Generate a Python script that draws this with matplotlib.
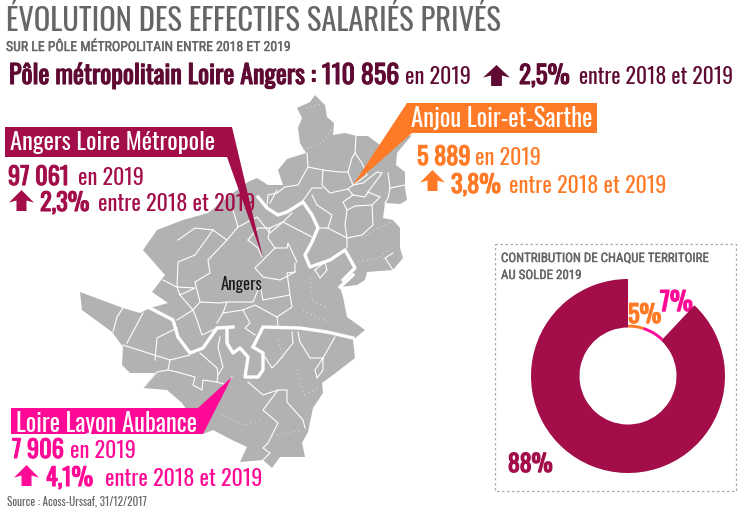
import matplotlib
matplotlib.use('Agg')
import matplotlib.pyplot as plt
import matplotlib.patheffects as pe
from matplotlib.patches import Polygon, Rectangle

# chiffres
territoires = ['Anjou Loir-et-Sarthe', 'Loire Layon Aubance', 'Angers Loire Métropole']
effectifs = ['5 889', '7 906', '97 061']
evolutions = ['3,8%', '4,1%', '2,3%']
contributions = [5, 7, 88]
total_pole = '110 856'
evolution_pole = '2,5%'

BORDEAUX = '#a20d4a'
SOMBRE = '#5f0a33'
ORANGE = '#ff7a26'
ROSE = '#ff0a96'
GRIS = '#666666'
CARTE = '#b2b2b2'
POLICE = ['Oswald', 'Liberation Sans', 'DejaVu Sans']
POLICE_PETITE = ['Roboto Condensed', 'Liberation Sans', 'DejaVu Sans']

# contour de la carte (pixels de l'image)
contour = [(315, 95), (325, 105), (327, 117), (334, 123), (333, 135), (345, 133), (357, 136), (368, 136),
           (380, 145), (412, 135), (397, 153), (396, 165), (405, 172), (405, 188), (407, 200), (400, 204),
           (385, 203), (383, 218), (393, 220), (400, 228), (400, 248), (403, 258), (393, 270), (367, 272),
           (365, 280), (357, 285), (340, 287), (343, 297), (347, 317), (365, 330), (353, 340), (355, 358),
           (333, 375), (322, 383), (323, 393), (313, 408), (308, 432), (302, 443), (305, 457), (280, 457),
           (272, 468), (263, 460), (240, 462), (247, 447), (232, 440), (213, 430), (203, 434), (182, 403),
           (167, 390), (143, 388), (155, 373), (130, 373), (122, 365), (123, 347), (112, 332), (82, 310),
           (80, 292), (123, 308), (140, 313), (150, 308), (168, 303), (152, 292), (165, 275), (143, 250),
           (157, 230), (183, 220), (208, 213), (233, 193), (248, 182), (257, 178), (268, 185), (283, 185),
           (278, 170), (287, 159), (306, 153), (300, 143), (298, 128), (302, 118), (297, 108), (310, 102)]

rivieres = [
    [(150, 308), (173, 320), (178, 337), (190, 353), (203, 348), (217, 328), (233, 327)],
    [(253, 347), (263, 327), (300, 328), (327, 332), (353, 338)],
    [(227, 330), (227, 343), (233, 353), (240, 348), (248, 357), (245, 377), (258, 377), (263, 370), (263, 353), (253, 347)],
    [(258, 197), (267, 208), (278, 215), (287, 212), (303, 202), (312, 215), (318, 228), (312, 242), (305, 255),
     (310, 267), (330, 260), (345, 250), (355, 268), (343, 280)],
    [(340, 287), (353, 275)],
]

limites = [
    [(356, 136), (355, 153), (362, 163), (367, 175), (353, 185)],
    [(307, 153), (308, 167), (323, 170), (340, 172), (348, 172), (352, 158), (355, 153)],
    [(308, 167), (298, 185), (285, 187), (277, 193), (268, 195), (267, 205)],
    [(323, 170), (322, 185), (330, 193), (348, 189), (353, 185), (348, 172)],
    [(302, 202), (312, 188), (322, 188)],
    [(312, 195), (317, 205), (332, 215), (328, 228), (318, 228)],
    [(328, 228), (347, 238), (347, 248)],
    [(348, 189), (353, 195), (343, 202), (347, 210), (345, 225), (347, 238)],
    [(347, 210), (355, 206), (372, 205), (373, 225), (362, 235), (347, 238)],
    [(353, 185), (363, 183), (377, 172), (382, 173), (368, 192), (365, 197), (353, 195)],
    [(368, 192), (380, 197), (372, 205)],
    [(388, 173), (390, 188), (388, 198), (385, 203)],
    [(390, 188), (405, 185)],
    [(283, 222), (312, 237)],
    [(270, 228), (283, 222), (292, 213)],
    [(270, 228), (268, 238), (275, 248), (287, 248), (288, 243), (297, 262)],
    [(275, 248), (263, 260), (255, 268), (263, 277), (280, 280), (295, 272), (295, 263)],
    [(248, 240), (258, 248), (262, 257)],
    [(248, 240), (258, 228), (270, 228)],
    [(393, 253), (385, 258), (393, 270)],
    [(315, 270), (325, 262), (327, 270), (320, 278), (315, 270)],
    [(270, 203), (277, 190)],
    [(233, 210), (238, 227), (227, 240), (213, 230), (195, 228), (178, 240)],
    [(238, 227), (257, 217), (270, 233), (283, 222)],
    [(113, 332), (117, 317), (123, 308)],
    [(127, 343), (143, 313)],
    [(123, 345), (170, 360), (168, 370), (157, 372), (143, 388)],
    [(168, 370), (177, 372), (195, 377), (193, 385), (202, 390), (203, 380), (217, 382), (227, 385), (232, 377)],
    [(155, 360), (157, 338), (177, 328)],
    [(170, 360), (190, 355)],
    [(200, 353), (217, 368), (218, 375), (217, 382)],
    [(220, 337), (218, 347), (223, 367), (218, 375)],
    [(193, 310), (177, 320)],
    [(193, 310), (197, 320), (202, 335), (217, 328)],
    [(193, 310), (200, 302), (220, 303), (227, 302), (223, 313), (217, 323)],
    [(200, 302), (195, 282), (210, 273), (208, 260), (227, 240)],
    [(227, 302), (253, 302), (260, 285), (263, 300), (290, 295), (292, 307), (277, 317), (255, 305), (243, 310),
     (250, 323), (245, 328), (255, 335)],
    [(277, 317), (278, 325)],
    [(180, 295), (177, 287), (195, 288), (180, 295), (193, 310)],
    [(163, 280), (177, 287), (178, 262), (195, 255), (213, 230)],
    [(290, 295), (287, 273), (295, 272)],
    [(292, 332), (293, 343), (277, 363), (272, 368), (265, 357)],
    [(298, 332), (300, 342), (310, 358), (323, 358), (323, 370), (317, 378), (315, 370), (323, 358)],
    [(335, 337), (323, 358)],
    [(248, 382), (263, 395), (278, 390), (287, 390), (287, 402), (303, 420), (305, 428)],
    [(278, 390), (263, 410), (278, 423), (268, 443), (263, 448), (270, 453), (263, 460)],
    [(223, 313), (243, 310)],
]

# limites fines en pointillés clairs
pointilles = [
    [(306, 108), (322, 104)],
    [(303, 150), (322, 143), (332, 128)],
    [(362, 238), (378, 228), (392, 222)],
    [(358, 262), (378, 258), (388, 250)],
    [(303, 310), (318, 318), (332, 322)],
    [(310, 278), (312, 300), (328, 308)],
    [(278, 340), (284, 360)],
    [(296, 365), (304, 395), (318, 388)],
    [(222, 415), (245, 425), (262, 420)],
    [(272, 436), (292, 432), (302, 430)],
]


def texte(x, y, s, couleur, taille, gras=False, police=POLICE, **kw):
    t = ax.text(x, y, s, color=couleur, fontsize=taille, family=police, va='baseline', ha='left', **kw)
    if gras:
        # Oswald n'est chargée qu'en un seul corps : on épaissit le tracé
        t.set_path_effects([pe.withStroke(linewidth=gras, foreground=couleur)])


def fleche(x, y, l, h, couleur):
    # fleche vers le haut, x/y = coin haut gauche
    ax.add_patch(Polygon([(x + l / 2, y), (x + l, y + h * 0.6), (x + l * 0.7, y + h * 0.5), (x + l * 0.7, y + h),
                          (x + l * 0.3, y + h), (x + l * 0.3, y + h * 0.5), (x, y + h * 0.6)],
                         closed=True, fc=couleur, ec='none', zorder=6))


def bloc(xn, yn, xf, yf, xp, xe, yl, i, couleur):
    # chiffre, evolution et fleche d'un territoire
    texte(xn, yn, effectifs[i], couleur, 17.5, 0.8)
    texte(xf, yn, 'en 2019', couleur, 16)
    fleche(yf[0], yf[1], yf[2], yf[3], couleur)
    texte(xp, yl, evolutions[i], couleur, 17.5, 0.8)
    texte(xe, yl, 'entre 2018 et 2019', couleur, 16)


fig = plt.figure(figsize=(7.45, 5.14), dpi=100)
ax = fig.add_axes([0, 0, 1, 1])
ax.set_xlim(0, 745)
ax.set_ylim(514, 0)
ax.axis('off')

# carte
ax.add_patch(Polygon(contour, closed=True, fc=CARTE, ec='none', zorder=1))
for l in limites:
    ax.plot([p[0] for p in l], [p[1] for p in l], color='white', lw=0.8, zorder=2, solid_joinstyle='round')
for r in rivieres:
    ax.plot([p[0] for p in r], [p[1] for p in r], color='white', lw=2.4, zorder=3, solid_joinstyle='round')
for p_ in pointilles:
    ax.plot([p[0] for p in p_], [p[1] for p in p_], color='#d8d8d8', lw=0.8, ls=(0, (1, 3)), zorder=2)

# titres
texte(6, 31, 'ÉVOLUTION DES EFFECTIFS SALARIÉS PRIVÉS', GRIS, 22)
texte(6, 51, 'SUR LE PÔLE MÉTROPOLITAIN ENTRE 2018 ET 2019', GRIS, 9.9, 0.3, POLICE_PETITE)
texte(9, 84, 'Pôle métropolitain Loire Angers : ' + total_pole, SOMBRE, 18.7, 0.8)
texte(405, 84, 'en 2019', SOMBRE, 16)
fleche(483, 65, 27, 21, SOMBRE)
texte(519, 84, evolution_pole, SOMBRE, 18, 0.8)
texte(579, 84, 'entre 2018 et 2019', SOMBRE, 15.7)

# Angers Loire Metropole
ax.add_patch(Polygon([(5, 127), (232, 127), (263, 258), (227, 157), (5, 157)], closed=True, fc=BORDEAUX, ec='none', zorder=5))
texte(10, 150, territoires[2], 'white', 17.6, zorder=7)
bloc(8, 185, 78, (9, 190, 25, 21), 40, 98, 211, 2, BORDEAUX)

# Anjou Loir-et-Sarthe
ax.add_patch(Polygon([(407, 103), (597, 103), (597, 133), (412, 133), (353, 185)], closed=True, fc=ORANGE, ec='none', zorder=5))
texte(411, 127, territoires[0], 'white', 17.8, zorder=7)
bloc(417, 165, 475, (420, 170, 25, 21), 451, 509, 193, 0, ORANGE)

# Loire Layon Aubance
ax.add_patch(Polygon([(11, 408), (198, 408), (232, 377), (203, 434), (11, 434)], closed=True, fc=ROSE, ec='none', zorder=5))
texte(16, 432, territoires[1], 'white', 17.7, zorder=7)
bloc(12, 458, 70, (14, 465, 25, 21), 46, 105, 486, 1, ROSE)

texte(221, 290, 'Angers', '#1a1a1a', 12, zorder=7)
texte(7, 505, 'Source : Acoss-Urssaf, 31/12/2017', GRIS, 8.1)

# cadre du donut
ax.add_patch(Rectangle((495, 244), 241, 247, fc='none', ec='#aaaaaa', lw=0.9, ls=(0, (2, 2))))
texte(501, 262, 'CONTRIBUTION DE CHAQUE TERRITOIRE', GRIS, 9.3, 0.3, POLICE_PETITE)
texte(501, 279, 'AU SOLDE 2019', GRIS, 9.3, 0.3, POLICE_PETITE)

# donut : les deux petites parts ne sont qu'un liseré sur le bord intérieur
rayon = 97
axd = fig.add_axes([(628 - rayon) / 745, 1 - (376 + rayon) / 514, 2 * rayon / 745, 2 * rayon / 514])
axd.pie(contributions, colors=['none', 'none', BORDEAUX], startangle=90, counterclock=False,
        radius=1, wedgeprops={'width': 0.5, 'linewidth': 0})
axd.pie(contributions, colors=[ORANGE, ROSE, 'none'], startangle=90, counterclock=False,
        radius=0.53, wedgeprops={'width': 0.03, 'linewidth': 0})
axd.set_xlim(-1, 1)
axd.set_ylim(-1, 1)
axd.axis('off')

texte(628, 323, f'{contributions[0]}%', ORANGE, 17.5, 1, zorder=7)
texte(660, 311, f'{contributions[1]}%', ROSE, 18.5, 1, zorder=7)
texte(508, 472, f'{contributions[2]}%', BORDEAUX, 17, 1, zorder=7)

fig.savefig('out.png', dpi=100)
